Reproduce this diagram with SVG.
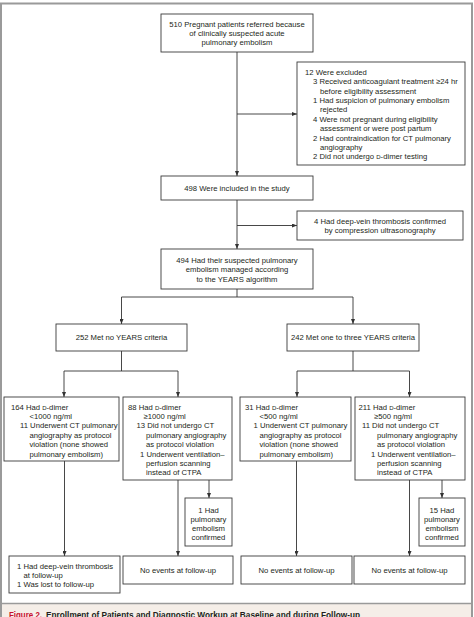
<svg xmlns="http://www.w3.org/2000/svg" width="474" height="617" viewBox="0 0 474 617">
<style>
.t{font-family:"Liberation Sans",Arial,sans-serif;font-size:7.7px;fill:#231f20}
.c{text-anchor:middle}
.b{fill:#fff;stroke:#3a3a3a;stroke-width:0.9}
.l{fill:none;stroke:#333;stroke-width:0.9}
.a{marker-end:url(#ah)}
.sc{font-size:6px}
.cap{font-family:"Liberation Sans",Arial,sans-serif;font-weight:bold;font-size:9.5px}
</style>
<defs>
<marker id="ah" markerUnits="userSpaceOnUse" markerWidth="5" markerHeight="4" refX="5" refY="2" orient="auto">
<path d="M0,0 L5,2 L0,4 z" fill="#333"/>
</marker>
</defs>
<rect x="0" y="0" width="474" height="617" fill="#fff"/>
<rect x="2" y="604" width="470" height="13" fill="#f5eee8"/>
<rect x="1" y="3.5" width="471" height="620" fill="none" stroke="#9a9a9a" stroke-width="2"/>
<line x1="1" y1="603.5" x2="472" y2="603.5" stroke="#9a9a9a" stroke-width="1.6"/>
<text class="cap" x="9" y="618" fill="#c8102e" textLength="33" lengthAdjust="spacingAndGlyphs">Figure 2.</text>
<text class="cap" x="46" y="618" fill="#231f20" textLength="314" lengthAdjust="spacingAndGlyphs">Enrollment of Patients and Diagnostic Workup at Baseline and during Follow-up</text>

<g id="connectors">
<path class="l a" d="M237 52 V176"/>
<path class="l a" d="M237 114 H297"/>
<path class="l a" d="M237 200 V249"/>
<path class="l a" d="M237 225.5 H297"/>
<path class="l" d="M237 289 V297"/>
<path class="l a" d="M237 297 H121.5 V324"/>
<path class="l a" d="M237 297 H353 V324"/>
<path class="l" d="M121.5 351 V371 M64 371 H178 M353 351 V371 M297 371 H409.5"/>
<path class="l a" d="M64 371 V397"/>
<path class="l a" d="M178 371 V397"/>
<path class="l a" d="M297 371 V397"/>
<path class="l a" d="M409.5 371 V397"/>
<path class="l a" d="M64.5 461 V556"/>
<path class="l a" d="M178 480 V556"/>
<path class="l a" d="M209 480 V498"/>
<path class="l a" d="M296.5 461 V556"/>
<path class="l a" d="M409.5 480 V556"/>
<path class="l a" d="M442 480 V498"/>
</g>

<g id="n510">
<rect class="b" x="161" y="14" width="152" height="38"/>
<text class="t c" x="237" y="26.8">510 Pregnant patients referred because</text>
<text class="t c" x="237" y="36">of clinically suspected acute</text>
<text class="t c" x="237" y="45.2">pulmonary embolism</text>
</g>

<g id="excluded">
<rect class="b" x="297" y="62" width="168" height="103"/>
<text class="t" x="305" y="74.8">12 Were excluded</text>
<text class="t" x="313" y="84.2">3 Received anticoagulant treatment ≥24 hr</text>
<text class="t" x="320" y="93.6">before eligibility assessment</text>
<text class="t" x="313" y="103">1 Had suspicion of pulmonary embolism</text>
<text class="t" x="320" y="112.4">rejected</text>
<text class="t" x="313" y="121.8">4 Were not pregnant during eligibility</text>
<text class="t" x="320" y="131.2">assessment or were post partum</text>
<text class="t" x="313" y="140.6">2 Had contraindication for CT pulmonary</text>
<text class="t" x="320" y="150">angiography</text>
<text class="t" x="313" y="159.4">2 Did not undergo <tspan class="sc">D</tspan>-dimer testing</text>
</g>

<g id="n498">
<rect class="b" x="161" y="176" width="152" height="24"/>
<text class="t c" x="237" y="191">498 Were included in the study</text>
</g>

<g id="dvt">
<rect class="b" x="297" y="211" width="166" height="29"/>
<text class="t c" x="380" y="223.5">4 Had deep-vein thrombosis confirmed</text>
<text class="t c" x="380" y="232.8">by compression ultrasonography</text>
</g>

<g id="n494">
<rect class="b" x="161" y="249" width="152" height="40"/>
<text class="t c" x="237" y="262.5">494 Had their suspected pulmonary</text>
<text class="t c" x="237" y="272">embolism managed according</text>
<text class="t c" x="237" y="281.5">to the YEARS algorithm</text>
</g>

<g id="n252">
<rect class="b" x="56" y="324" width="131" height="27"/>
<text class="t c" x="121.5" y="340">252 Met no YEARS criteria</text>
</g>

<g id="n242">
<rect class="b" x="287" y="324" width="132" height="27"/>
<text class="t c" x="353" y="340">242 Met one to three YEARS criteria</text>
</g>

<g id="n164">
<rect class="b" x="4" y="397" width="115" height="64"/>
<text class="t" x="11" y="409.5">164 Had <tspan class="sc">D</tspan>-dimer</text>
<text class="t" x="29.5" y="419">&lt;1000 ng/ml</text>
<text class="t" x="20" y="428.4">11 Underwent CT pulmonary</text>
<text class="t" x="29.5" y="437.8">angiography as protocol</text>
<text class="t" x="29.5" y="447.2">violation (none showed</text>
<text class="t" x="29.5" y="456.6">pulmonary embolism)</text>
</g>

<g id="n88">
<rect class="b" x="123" y="397" width="109" height="83"/>
<text class="t" x="128" y="409.5">88 Had <tspan class="sc">D</tspan>-dimer</text>
<text class="t" x="143.5" y="419">≥1000 ng/ml</text>
<text class="t" x="136.5" y="428.4">13 Did not undergo CT</text>
<text class="t" x="146" y="437.8">pulmonary angiography</text>
<text class="t" x="146" y="447.2">as protocol violation</text>
<text class="t" x="140" y="456.6">1 Underwent ventilation–</text>
<text class="t" x="146" y="466">perfusion scanning</text>
<text class="t" x="146" y="475.4">instead of CTPA</text>
</g>

<g id="n31">
<rect class="b" x="240" y="397" width="111" height="64"/>
<text class="t" x="245" y="409.5">31 Had <tspan class="sc">D</tspan>-dimer</text>
<text class="t" x="259.5" y="419">&lt;500 ng/ml</text>
<text class="t" x="253.5" y="428.4">1 Underwent CT pulmonary</text>
<text class="t" x="259.5" y="437.8">angiography as protocol</text>
<text class="t" x="259.5" y="447.2">violation (none showed</text>
<text class="t" x="259.5" y="456.6">pulmonary embolism)</text>
</g>

<g id="n211">
<rect class="b" x="355" y="397" width="110" height="83"/>
<text class="t" x="358.5" y="409.5">211 Had <tspan class="sc">D</tspan>-dimer</text>
<text class="t" x="374" y="419">≥500 ng/ml</text>
<text class="t" x="362" y="428.4">11 Did not undergo CT</text>
<text class="t" x="377" y="437.8">pulmonary angiography</text>
<text class="t" x="377" y="447.2">as protocol violation</text>
<text class="t" x="371" y="456.6">1 Underwent ventilation–</text>
<text class="t" x="377" y="466">perfusion scanning</text>
<text class="t" x="377" y="475.4">instead of CTPA</text>
</g>

<g id="pe1">
<rect class="b" x="185" y="498" width="47" height="48"/>
<text class="t c" x="208.5" y="512.5">1 Had</text>
<text class="t c" x="208.5" y="521.8">pulmonary</text>
<text class="t c" x="208.5" y="531">embolism</text>
<text class="t c" x="208.5" y="540.3">confirmed</text>
</g>

<g id="pe15">
<rect class="b" x="419" y="498" width="46" height="48"/>
<text class="t c" x="442" y="512.5">15 Had</text>
<text class="t c" x="442" y="521.8">pulmonary</text>
<text class="t c" x="442" y="531">embolism</text>
<text class="t c" x="442" y="540.3">confirmed</text>
</g>

<g id="f1">
<rect class="b" x="9" y="556" width="111" height="37"/>
<text class="t" x="17" y="568.5">1 Had deep-vein thrombosis</text>
<text class="t" x="23.5" y="577.7">at follow-up</text>
<text class="t" x="17" y="587">1 Was lost to follow-up</text>
</g>

<g id="f2">
<rect class="b" x="123" y="556" width="110" height="28"/>
<text class="t c" x="178" y="572.5">No events at follow-up</text>
</g>

<g id="f3">
<rect class="b" x="241" y="556" width="111" height="28"/>
<text class="t c" x="296.5" y="572.5">No events at follow-up</text>
</g>

<g id="f4">
<rect class="b" x="354" y="556" width="111" height="28"/>
<text class="t c" x="409.5" y="572.5">No events at follow-up</text>
</g>
</svg>
